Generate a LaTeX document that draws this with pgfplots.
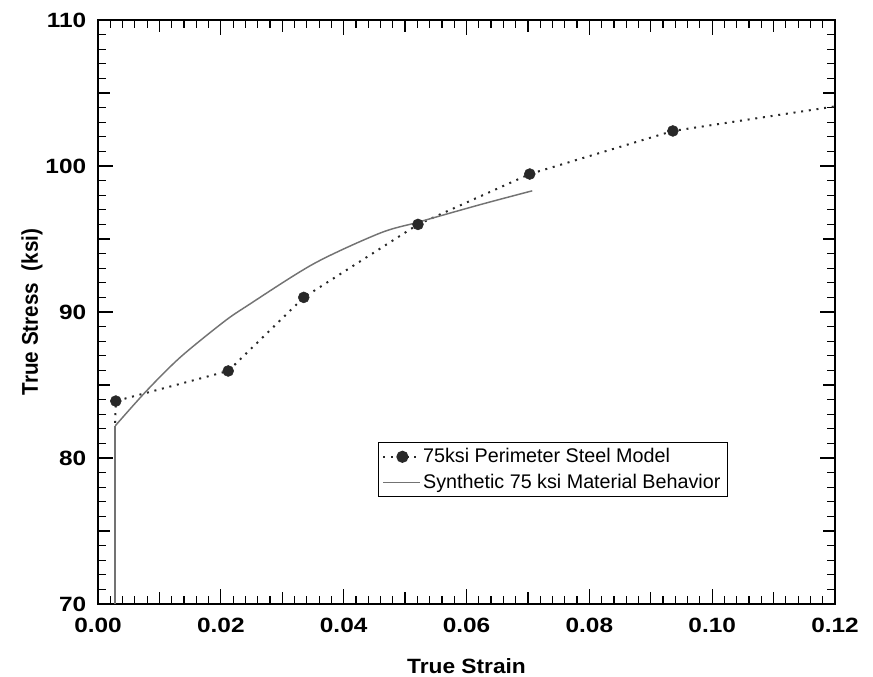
\documentclass[border=0pt]{standalone}
\usepackage{fontspec}
\setmainfont{Liberation Sans}
\usepackage{pgfplots}
\pgfplotsset{compat=1.18}
\usetikzlibrary{calc}
\definecolor{dotc}{RGB}{40,40,40}
\definecolor{solc}{RGB}{115,115,115}
\begin{document}
\begin{tikzpicture}
\begin{axis}[
  name=ax,
  scale only axis, width=552.75pt, height=438pt,
  xmin=0, xmax=0.12, ymin=70, ymax=110,
  xtick={0,0.02,0.04,0.06,0.08,0.10,0.12},
  xticklabels={0.00,0.02,0.04,0.06,0.08,0.10,0.12},
  ytick={70,80,90,100,110},
  minor x tick num=9, minor y tick num=9,
  extra x ticks={0.01,0.03,0.05,0.07,0.09,0.11}, extra x tick labels={},
  extra x tick style={major tick length=9pt},
  extra y ticks={75,85,95,105}, extra y tick labels={},
  extra y tick style={major tick length=9pt},
  major tick length=11pt, minor tick length=6pt,
  every tick/.style={black, line width=0.9pt},
  axis line style={line width=1.2pt},
  tick label style={font=\fontsize{15.5}{17}\selectfont\bfseries, xscale=1.18},
  xticklabel style={yshift=-7pt},
  yticklabel style={xshift=-4pt},
  /pgf/number format/assume math mode=true,
  xlabel={True Strain}, ylabel={True Stress\ \ (ksi)},
  label style={font=\fontsize{15.5}{17}\selectfont\bfseries},
  xlabel style={at={(axis description cs:0.5,-0.106)}, anchor=center, xscale=1.1},
  ylabel style={at={(axis description cs:-0.0896,0.5)}, anchor=center, yscale=1.1},
  legend style={at={(axis description cs:0.38,0.277)}, anchor=north west,
    draw=black, line width=0.6pt, fill=white, font=\fontsize{14.8}{17}\selectfont,
    inner xsep=3pt, inner ysep=2.5pt, row sep=3pt},
  legend cell align=left,
]
\addplot[color=dotc, line width=1.5pt, dash pattern=on 1.5pt off 4.3pt,
  legend image code/.code={
    \draw[color=dotc, line width=1.5pt, dash pattern=on 1.5pt off 4.3pt] (0cm,0cm) -- (0.95cm,0cm);
    \fill[dotc, solid] (0.5cm,0cm) circle (3.8pt);}]
  coordinates {(0.0028,82.4) (0.0029,83.9) (0.0212,85.96) (0.0335,91.0)
   (0.0521,96.0) (0.0703,99.45) (0.0936,102.4) (0.1203,104.1)};
\addlegendentry{75ksi Perimeter Steel Model}
\addplot[color=solc, line width=1.1pt, smooth,
  legend image code/.code={\draw[color=solc, line width=1.1pt] (0cm,0cm) -- (0.95cm,0cm);}]
  coordinates {(0.0028,82.2) (0.0079,84.6) (0.0134,86.9) (0.0204,89.3)
   (0.0242,90.4) (0.0351,93.3) (0.0459,95.4) (0.0521,96.15) (0.0622,97.35) (0.0707,98.3)};
\addlegendentry{Synthetic 75 ksi Material Behavior}
\addplot[color=solc, line width=1.1pt, forget plot]
  coordinates {(0.0028,70) (0.0028,82.2)};
\addplot[only marks, mark=*, mark size=4.1pt, mark options={fill=dotc, draw=dotc}, forget plot]
  coordinates {(0.0029,83.9) (0.0212,85.96) (0.0335,91.0)
   (0.0521,96.0) (0.0703,99.45) (0.0936,102.4)};
\end{axis}
\pgfresetboundingbox
\path ($(ax.south west)+(-73.5pt,-54.75pt)$) rectangle ($(ax.north east)+(28.5pt,15pt)$);
\end{tikzpicture}
\end{document}
